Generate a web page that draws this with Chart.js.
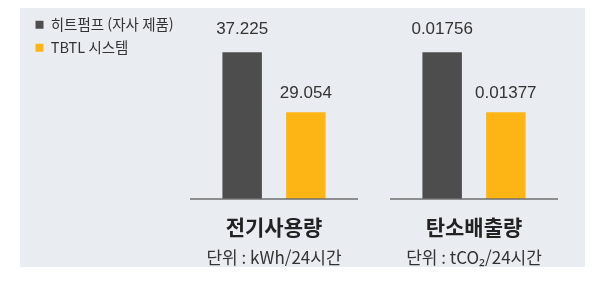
<!DOCTYPE html>
<html lang="ko">
<head>
<meta charset="utf-8">
<script src="https://cdn.jsdelivr.net/npm/chart.js@4.4.1/dist/chart.umd.min.js"></script>
<style>
  html, body { margin: 0; padding: 0; background: #fff; }
  #wrap { position: relative; width: 603px; height: 285px; }
  #panel { position: absolute; left: 20px; top: 8px; width: 565px; height: 259px; background: #e9edf2; }
  #myChart { position: absolute; left: 0; top: 0; }
</style>
</head>
<body>
<div id="wrap">
  <div id="panel"></div>
  <canvas id="myChart" width="603" height="285"></canvas>
</div>
<script>
// data
const categories = ['전기사용량', '탄소배출량'];
const unitLabels = ['단위 : kWh/24시간', '단위 : tCO₂/24시간'];
const seriesNames = ['히트펌프 (자사 제품)', 'TBTL 시스템'];
const heatPump = [37.225, 0.01756];
const tbtl = [29.054, 0.01377];

const colors = ['#4d4d4d', '#fdb515'];
const labelGap = [18, 14];
// each group has its own value axis
const axisIds = ['yE', 'yC'];

Chart.defaults.font.family = "'Noto Sans CJK KR', 'Noto Sans', sans-serif";

// one dataset per series and group, nulls skipped so each group shows two bars
let datasets = [];
categories.forEach((cat, ci) => {
    [heatPump, tbtl].forEach((series, si) => {
        datasets.push({
            label: seriesNames[si],
            data: categories.map((c, i) => i === ci ? series[i] : null),
            backgroundColor: colors[si],
            borderWidth: 0,
            yAxisID: axisIds[ci],
            skipNull: true,
            clip: 0,
            categoryPercentage: 0.637,
            barPercentage: 0.62,
            labelGap: labelGap[si]
        });
    });
});

// value labels above bars + split base line under each group
const barExtras = {
    id: 'barExtras',
    afterDatasetsDraw(chart) {
        const ctx = chart.ctx;
        const x = chart.scales.x;
        const bottom = chart.chartArea.bottom;
        const half = (x.getPixelForTick(1) - x.getPixelForTick(0)) / 2 - 16;
        ctx.save();
        ctx.strokeStyle = '#6e6e6e';
        ctx.lineWidth = 1.5;
        categories.forEach((c, i) => {
            const cx = x.getPixelForTick(i);
            ctx.beginPath();
            ctx.moveTo(cx - half, bottom);
            ctx.lineTo(cx + half, bottom);
            ctx.stroke();
        });
        ctx.font = '17px "Liberation Sans", Arial, sans-serif';
        ctx.fillStyle = '#333';
        ctx.textAlign = 'center';
        ctx.textBaseline = 'alphabetic';
        chart.data.datasets.forEach((ds, di) => {
            chart.getDatasetMeta(di).data.forEach((bar, i) => {
                if (ds.data[i] == null) return;
                ctx.fillText(String(ds.data[i]), bar.x, bar.y - ds.labelGap);
            });
        });
        ctx.restore();
    }
};

const ctx = document.getElementById('myChart').getContext('2d');
const myChart = new Chart(ctx, {
    type: 'bar',
    data: {
        labels: categories,
        datasets: datasets
    },
    options: {
        responsive: false,
        animation: false,
        layout: {
            padding: { left: 27, top: 9, right: 29, bottom: 0 }
        },
        plugins: {
            legend: {
                position: 'left',
                align: 'start',
                maxWidth: 147,
                labels: {
                    boxWidth: 8,
                    boxHeight: 8,
                    padding: 8.5,
                    color: '#333',
                    font: { size: 14.5 },
                    filter: (item) => item.datasetIndex < 2
                }
            },
            tooltip: { enabled: false }
        },
        scales: {
            x: {
                offset: true,
                grid: { display: false, drawTicks: false },
                border: { display: false },
                ticks: { color: '#222', font: { size: 21, weight: 'bold' }, padding: 15, maxRotation: 0 },
                afterFit: (s) => { s.height = 44; }
            },
            x2: {
                type: 'category',
                labels: unitLabels,
                position: 'bottom',
                weight: 1,
                offset: true,
                grid: { display: false, drawTicks: false },
                border: { display: false },
                ticks: { color: '#333', font: { size: 17 }, padding: 4, maxRotation: 0 },
                afterFit: (s) => { s.height = 42; }
            },
            yE: {
                display: false,
                beginAtZero: false,
                min: 17.25,
                max: 43.13
            },
            yC: {
                display: false,
                beginAtZero: false,
                min: 0.00829,
                max: 0.02030
            }
        }
    },
    plugins: [barExtras]
});
</script>
</body>
</html>
